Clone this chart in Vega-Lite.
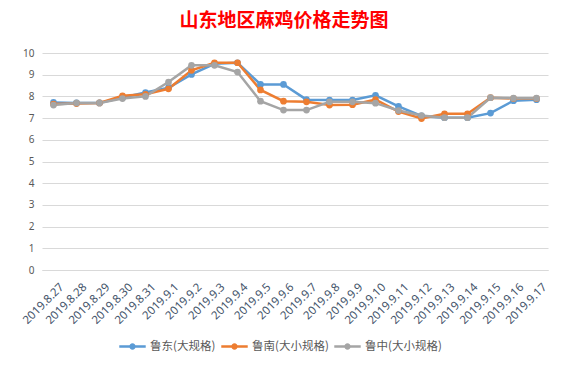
{
  "$schema": "https://vega.github.io/schema/vega-lite/v6.json",
  "width": 506,
  "height": 217,
  "autosize": "none",
  "padding": {"left": 42, "top": 53, "right": 19, "bottom": 98},
  "background": "white",
  "title": {
    "text": "山东地区麻鸡价格走势图",
    "color": "#FF0000",
    "font": "Noto Sans CJK SC",
    "fontSize": 19,
    "fontWeight": "bold",
    "anchor": "middle",
    "dx": -11,
    "offset": 17
  },
  "data": {
    "values": [
      {"date": "2019.8.27", "s": "鲁东(大规格)", "v": 7.72},
      {"date": "2019.8.28", "s": "鲁东(大规格)", "v": 7.7},
      {"date": "2019.8.29", "s": "鲁东(大规格)", "v": 7.7},
      {"date": "2019.8.30", "s": "鲁东(大规格)", "v": 7.95},
      {"date": "2019.8.31", "s": "鲁东(大规格)", "v": 8.18},
      {"date": "2019.9.1", "s": "鲁东(大规格)", "v": 8.4},
      {"date": "2019.9.2", "s": "鲁东(大规格)", "v": 9.01},
      {"date": "2019.9.3", "s": "鲁东(大规格)", "v": 9.5},
      {"date": "2019.9.4", "s": "鲁东(大规格)", "v": 9.55},
      {"date": "2019.9.5", "s": "鲁东(大规格)", "v": 8.55},
      {"date": "2019.9.6", "s": "鲁东(大规格)", "v": 8.55},
      {"date": "2019.9.7", "s": "鲁东(大规格)", "v": 7.85},
      {"date": "2019.9.8", "s": "鲁东(大规格)", "v": 7.83},
      {"date": "2019.9.9", "s": "鲁东(大规格)", "v": 7.83},
      {"date": "2019.9.10", "s": "鲁东(大规格)", "v": 8.05},
      {"date": "2019.9.11", "s": "鲁东(大规格)", "v": 7.54},
      {"date": "2019.9.12", "s": "鲁东(大规格)", "v": 7.1},
      {"date": "2019.9.13", "s": "鲁东(大规格)", "v": 7.02},
      {"date": "2019.9.14", "s": "鲁东(大规格)", "v": 7.02},
      {"date": "2019.9.15", "s": "鲁东(大规格)", "v": 7.23},
      {"date": "2019.9.16", "s": "鲁东(大规格)", "v": 7.8},
      {"date": "2019.9.17", "s": "鲁东(大规格)", "v": 7.85},
      {"date": "2019.8.27", "s": "鲁南(大小规格)", "v": 7.65},
      {"date": "2019.8.28", "s": "鲁南(大小规格)", "v": 7.67},
      {"date": "2019.8.29", "s": "鲁南(大小规格)", "v": 7.7},
      {"date": "2019.8.30", "s": "鲁南(大小规格)", "v": 8.03},
      {"date": "2019.8.31", "s": "鲁南(大小规格)", "v": 8.1},
      {"date": "2019.9.1", "s": "鲁南(大小规格)", "v": 8.35},
      {"date": "2019.9.2", "s": "鲁南(大小规格)", "v": 9.2},
      {"date": "2019.9.3", "s": "鲁南(大小规格)", "v": 9.55},
      {"date": "2019.9.4", "s": "鲁南(大小规格)", "v": 9.55},
      {"date": "2019.9.5", "s": "鲁南(大小规格)", "v": 8.3},
      {"date": "2019.9.6", "s": "鲁南(大小规格)", "v": 7.78},
      {"date": "2019.9.7", "s": "鲁南(大小规格)", "v": 7.75},
      {"date": "2019.9.8", "s": "鲁南(大小规格)", "v": 7.6},
      {"date": "2019.9.9", "s": "鲁南(大小规格)", "v": 7.62},
      {"date": "2019.9.10", "s": "鲁南(大小规格)", "v": 7.85},
      {"date": "2019.9.11", "s": "鲁南(大小规格)", "v": 7.3},
      {"date": "2019.9.12", "s": "鲁南(大小规格)", "v": 6.98},
      {"date": "2019.9.13", "s": "鲁南(大小规格)", "v": 7.2},
      {"date": "2019.9.14", "s": "鲁南(大小规格)", "v": 7.2},
      {"date": "2019.9.15", "s": "鲁南(大小规格)", "v": 7.94},
      {"date": "2019.9.16", "s": "鲁南(大小规格)", "v": 7.9},
      {"date": "2019.9.17", "s": "鲁南(大小规格)", "v": 7.9},
      {"date": "2019.8.27", "s": "鲁中(大小规格)", "v": 7.6},
      {"date": "2019.8.28", "s": "鲁中(大小规格)", "v": 7.7},
      {"date": "2019.8.29", "s": "鲁中(大小规格)", "v": 7.7},
      {"date": "2019.8.30", "s": "鲁中(大小规格)", "v": 7.9},
      {"date": "2019.8.31", "s": "鲁中(大小规格)", "v": 8.0},
      {"date": "2019.9.1", "s": "鲁中(大小规格)", "v": 8.66},
      {"date": "2019.9.2", "s": "鲁中(大小规格)", "v": 9.43},
      {"date": "2019.9.3", "s": "鲁中(大小规格)", "v": 9.43},
      {"date": "2019.9.4", "s": "鲁中(大小规格)", "v": 9.12},
      {"date": "2019.9.5", "s": "鲁中(大小规格)", "v": 7.78},
      {"date": "2019.9.6", "s": "鲁中(大小规格)", "v": 7.37},
      {"date": "2019.9.7", "s": "鲁中(大小规格)", "v": 7.37},
      {"date": "2019.9.8", "s": "鲁中(大小规格)", "v": 7.75},
      {"date": "2019.9.9", "s": "鲁中(大小规格)", "v": 7.75},
      {"date": "2019.9.10", "s": "鲁中(大小规格)", "v": 7.69},
      {"date": "2019.9.11", "s": "鲁中(大小规格)", "v": 7.35},
      {"date": "2019.9.12", "s": "鲁中(大小规格)", "v": 7.12},
      {"date": "2019.9.13", "s": "鲁中(大小规格)", "v": 7.02},
      {"date": "2019.9.14", "s": "鲁中(大小规格)", "v": 7.02},
      {"date": "2019.9.15", "s": "鲁中(大小规格)", "v": 7.94},
      {"date": "2019.9.16", "s": "鲁中(大小规格)", "v": 7.92},
      {"date": "2019.9.17", "s": "鲁中(大小规格)", "v": 7.92}
    ]
  },
  "mark": {"type": "line", "strokeWidth": 2.5, "point": {"filled": true, "size": 45}},
  "encoding": {
    "x": {
      "field": "date",
      "type": "ordinal",
      "sort": null,
      "scale": {"paddingInner": 0, "paddingOuter": 0.5},
      "axis": {
        "title": null,
        "labelAngle": -45,
        "labelAlign": "right",
        "labelBaseline": "top",
        "labelFont": "Noto Sans",
        "labelFontSize": 11.5,
        "labelColor": "#44546A",
        "labelPadding": 11,
        "labelOffset": 4,
        "ticks": false,
        "domainColor": "#D9D9D9",
        "grid": false
      }
    },
    "y": {
      "field": "v",
      "type": "quantitative",
      "scale": {"domain": [0, 10]},
      "axis": {
        "title": null,
        "values": [0, 1, 2, 3, 4, 5, 6, 7, 8, 9, 10],
        "domain": false,
        "ticks": false,
        "gridColor": "#D9D9D9",
        "labelFont": "Noto Sans",
        "labelFontSize": 10,
        "labelColor": "#595959",
        "labelPadding": 8
      }
    },
    "color": {
      "field": "s",
      "type": "nominal",
      "sort": null,
      "scale": {"range": ["#5B9BD5", "#ED7D31", "#A5A5A5"]},
      "legend": {
        "title": null,
        "orient": "none",
        "legendX": 77,
        "legendY": 280,
        "direction": "horizontal",
        "columns": 3,
        "columnPadding": 5,
        "labelFont": "Noto Sans CJK SC",
        "labelFontSize": 11.5,
        "labelColor": "#595959",
        "labelOffset": 4,
        "symbolType": "M-1,-0.09H1V0.09H-1Z M-0.24,0A0.24,0.24 0 1,1 0.24,0A0.24,0.24 0 1,1 -0.24,0Z",
        "symbolSize": 700,
        "symbolStrokeWidth": 0,
        "encode": {"symbols": {"update": {"fill": {"scale": "color", "field": "value"}, "strokeWidth": {"value": 0}}}}
      }
    }
  },
  "config": {"view": {"stroke": null}}
}
